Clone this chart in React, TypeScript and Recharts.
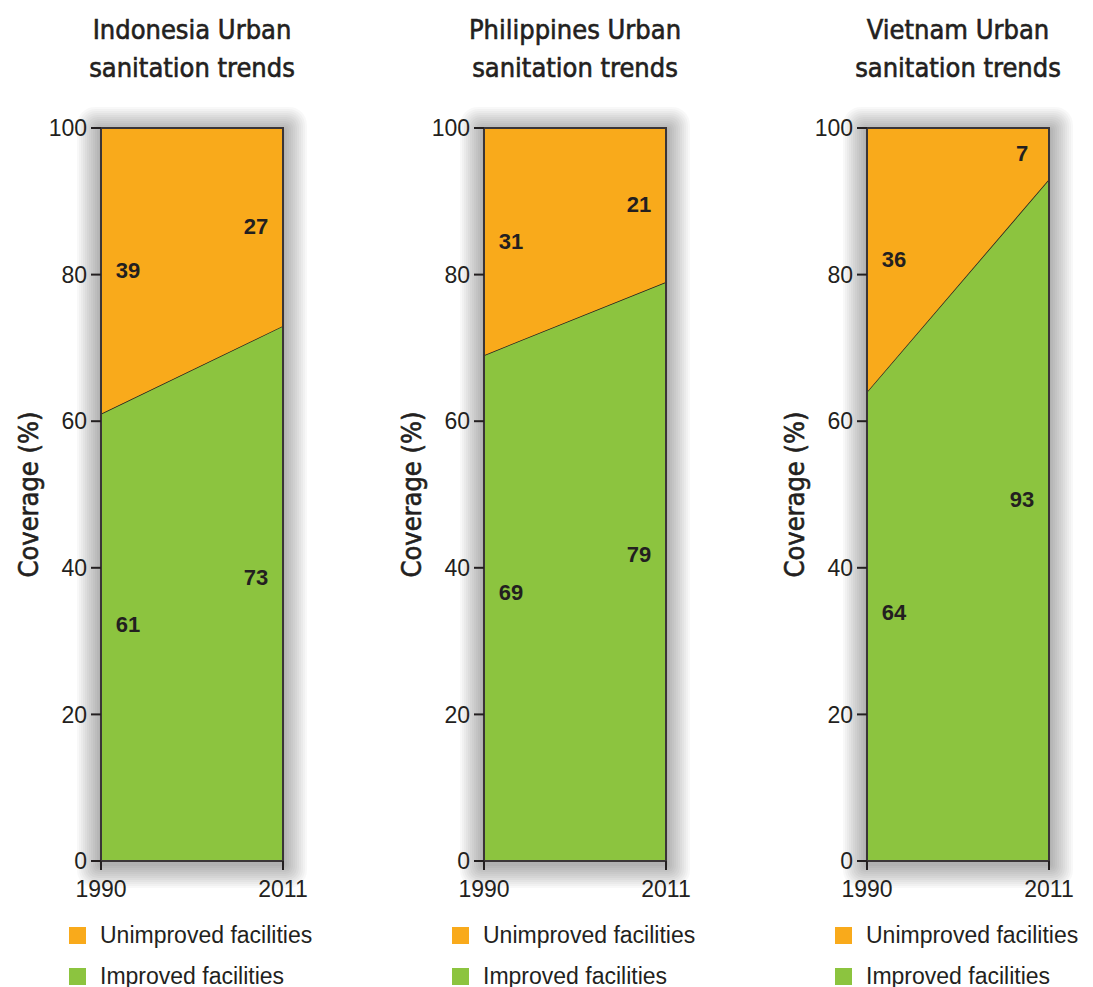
import {
  ComposedChart,
  Area,
  Scatter,
  XAxis,
  YAxis,
  ReferenceArea,
  Legend,
} from "recharts";

const YEARS = [1990, 2011];
const Y_TICKS = [0, 20, 40, 60, 80, 100];

const indonesiaImproved = [61, 73];
const indonesiaUnimproved = [39, 27];
const philippinesImproved = [69, 79];
const philippinesUnimproved = [31, 21];
const vietnamImproved = [64, 93];
const vietnamUnimproved = [36, 7];

const PANELS = [
  { title: ["Indonesia Urban", "sanitation trends"], improved: indonesiaImproved, unimproved: indonesiaUnimproved },
  { title: ["Philippines Urban", "sanitation trends"], improved: philippinesImproved, unimproved: philippinesUnimproved },
  { title: ["Vietnam Urban", "sanitation trends"], improved: vietnamImproved, unimproved: vietnamUnimproved },
];

const GREEN = "#8cc43f";
const ORANGE = "#f9aa1b";
const INK = "#231f20";
const SANS = '"Liberation Sans", Arial, Helvetica, sans-serif';
const COND = '"DejaVu Sans Condensed", "Liberation Sans Narrow", "Roboto Condensed", sans-serif';

const PANEL_W = 382;
const PLOT_LEFT = 101;
const PLOT_TOP = 128;

// stacked translucent rings fake a soft drop shadow around the plot box
const GLOW = [1, 2, 3, 4, 5, 6, 7, 8, 9, 10, 11, 12];

function ShadowBox(p: any) {
  return (
    <g>
      {GLOW.map((k) => (
        <rect
          key={k}
          x={p.x - k * 2}
          y={p.y - k * 2 + 3}
          width={p.width + k * 4}
          height={p.height + k * 4}
          rx={k * 1.5}
          fill="#000"
          fillOpacity={0.028}
        />
      ))}
    </g>
  );
}

function ValueLabel(props: any) {
  const { cx, cy, payload } = props;
  const dx = payload.year === YEARS[0] ? 27 : -27;
  return (
    <text
      x={cx + dx}
      y={cy}
      textAnchor="middle"
      dominantBaseline="central"
      fontFamily={SANS}
      fontWeight="bold"
      fontSize={22}
      fill={INK}
    >
      {payload.text}
    </text>
  );
}

function LegendBox() {
  const items = [
    { label: "Unimproved facilities", color: ORANGE },
    { label: "Improved facilities", color: GREEN },
  ];
  return (
    <div style={{ fontFamily: SANS, fontSize: 23, color: INK, whiteSpace: "nowrap" }}>
      {items.map((it) => (
        <div key={it.label} style={{ display: "flex", alignItems: "center", height: 41 }}>
          <span style={{ width: 17, height: 17, background: it.color, display: "inline-block", marginRight: 14 }} />
          {it.label}
        </div>
      ))}
    </div>
  );
}

function Panel({ panel, idx }: any) {
  const data = YEARS.map((year, i) => ({
    year,
    improved: panel.improved[i],
    unimproved: panel.unimproved[i],
  }));
  const labels = YEARS.flatMap((year, i) => [
    { year, mid: panel.improved[i] * 0.53, text: panel.improved[i] },
    { year, mid: panel.improved[i] + panel.unimproved[i] / 2, text: panel.unimproved[i] },
  ]);

  return (
    <div style={{ position: "absolute", left: idx * PANEL_W + idx, top: 0, width: PANEL_W, height: 987 }}>
      <div
        style={{
          position: "absolute",
          left: PLOT_LEFT,
          width: 182,
          top: 11,
          textAlign: "center",
          fontFamily: COND,
          fontStretch: "condensed",
          fontSize: 27,
          lineHeight: "38px",
          fontWeight: 500,
          color: INK,
          WebkitTextStroke: `0.6px ${INK}`,
          whiteSpace: "nowrap",
          display: "flex",
          flexDirection: "column",
          alignItems: "center",
        }}
      >
        {panel.title.map((t: string) => (
          <span key={t}>{t}</span>
        ))}
      </div>
      <ComposedChart
        width={PANEL_W}
        height={987}
        data={data}
        margin={{ top: PLOT_TOP, right: 99, left: 0, bottom: 96 }}
        style={{ position: "absolute", left: 0, top: 0 }}
      >
        <XAxis
          dataKey="year"
          type="number"
          domain={[1990, 2011]}
          ticks={YEARS}
          height={30}
          tickSize={9}
          tickMargin={11}
          axisLine={false}
          tickLine={{ stroke: INK, strokeWidth: 2 }}
          tick={{ fill: INK, fontSize: 23, fontFamily: SANS }}
        />
        <YAxis
          type="number"
          domain={[0, 100]}
          ticks={Y_TICKS}
          width={PLOT_LEFT}
          tickSize={10}
          tickMargin={4}
          axisLine={false}
          tickLine={{ stroke: INK, strokeWidth: 2 }}
          tick={{ fill: INK, fontSize: 23, fontFamily: SANS }}
          label={{
            content: ({ viewBox }: any) => {
              const x = viewBox.x + 28;
              const y = viewBox.y + viewBox.height / 2;
              return (
                <text
                  x={x}
                  y={y}
                  transform={`rotate(-90 ${x} ${y})`}
                  textAnchor="middle"
                  dominantBaseline="central"
                  fontFamily={COND}
                  fontSize={27}
                  fontWeight={500}
                  fill={INK}
                  stroke={INK}
                  strokeWidth={0.6}
                >
                  Coverage (%)
                </text>
              );
            },
          }}
        />
        <ReferenceArea x1={1990} x2={2011} y1={0} y2={100} shape={ShadowBox} />
        <Area
          type="linear"
          dataKey="improved"
          stackId="s"
          fill={GREEN}
          fillOpacity={1}
          stroke={INK}
          strokeWidth={1.5}
          isAnimationActive={false}
        />
        <Area
          type="linear"
          dataKey="unimproved"
          stackId="s"
          fill={ORANGE}
          fillOpacity={1}
          stroke="none"
          isAnimationActive={false}
        />
        <ReferenceArea x1={1990} x2={2011} y1={0} y2={100} fill="none" stroke="#3a3537" strokeWidth={2} />
        <Scatter data={labels} dataKey="mid" shape={ValueLabel} isAnimationActive={false} />
        <Legend
          layout="horizontal"
          verticalAlign="middle"
          align="center"
          content={() => <LegendBox />}
          wrapperStyle={{ position: "absolute", left: 69, top: 915, width: 320 }}
        />
      </ComposedChart>
    </div>
  );
}

export default function App() {
  return (
    <div style={{ position: "absolute", left: 0, top: 0, width: 1093, height: 987, background: "#fff" }}>
      {PANELS.map((p, i) => (
        <Panel key={i} panel={p} idx={i} />
      ))}
    </div>
  );
}
